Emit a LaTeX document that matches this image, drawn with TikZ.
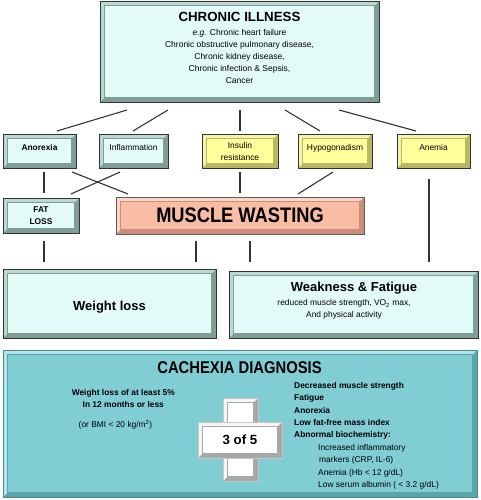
\documentclass[tikz,border=0pt]{standalone}
\usepackage{fontspec}
\setmainfont{Liberation Sans}
\newfontfamily\narrowfont{Liberation Sans}[FakeStretch=0.87]
\usetikzlibrary{calc}
\definecolor{cyanfill}{HTML}{E3FBF8}
\definecolor{cyanlight}{HTML}{BCD8CF}
\definecolor{cyandark}{HTML}{7F9F96}
\definecolor{yelfill}{HTML}{FFFF9C}
\definecolor{yellight}{HTML}{F4F4B0}
\definecolor{yeldark}{HTML}{B8B860}
\definecolor{salfill}{HTML}{F9BCA4}
\definecolor{sallight}{HTML}{FBD6C8}
\definecolor{saldark}{HTML}{C98E78}
\definecolor{cachfill}{HTML}{80CDD3}
\definecolor{cachlight}{HTML}{B2E6E9}
\definecolor{cachdark}{HTML}{5AA4AA}
\definecolor{cachline}{HTML}{4A8A90}
\definecolor{crosslight}{HTML}{F6F6F6}
\definecolor{crossdark}{HTML}{A8A8A8}
\definecolor{crossline}{HTML}{C8C8C8}
\definecolor{boxline}{HTML}{333333}
\tikzset{
  bev/.style n args={4}{draw=#4, line width=0.7pt, fill=#3, inner sep=2pt, outer sep=0pt,
    path picture={
      \coordinate (pNW) at (path picture bounding box.north west);
      \coordinate (pSE) at (path picture bounding box.south east);
      \coordinate (pNE) at (pSE|-pNW);
      \coordinate (pSW) at (pNW|-pSE);
      \fill[#2] (pNW) -- (pNE) -- ($(pNE)+(-4.5pt,-4.5pt)$) -- ($(pNW)+(4.5pt,-4.5pt)$)
        -- ($(pSW)+(4.5pt,4.5pt)$) -- (pSW) -- cycle;
      \filldraw[fill=#1, draw=#3, line width=0.4pt] ($(pNW)+(4.5pt,-4.5pt)$) rectangle ($(pSE)+(-4.5pt,4.5pt)$);
    }},
  cyanbox/.style={bev={cyanfill}{cyanlight}{cyandark}{boxline}},
  yelbox/.style={bev={yelfill}{yellight}{yeldark}{boxline}},
  salbox/.style={bev={salfill}{sallight}{saldark}{boxline!80}},
  cachbox/.style={bev={cachfill}{cachlight}{cachdark}{cachline}},
  crossbox/.style={bev={white}{crosslight}{crossdark}{crossline}},
  small/.style={font=\fontsize{8.4}{12}\selectfont},
  smallb/.style={font=\fontsize{8.4}{12}\selectfont\bfseries},
  up4/.style={text height=6pt, text depth=8pt},
  conn/.style={draw=black!80, line width=1.1pt},
}
\begin{document}
\begin{tikzpicture}[x=1pt,y=-1pt]
\useasboundingbox[fill=white] (0,0) rectangle (480,500);
% top box
\node[cyanbox, minimum width=279pt, minimum height=101pt] (top) at (239.5,51.5) {};
\node[font=\fontsize{13.3}{15}\selectfont\bfseries] (toptitle) at (239.5,16.5) {CHRONIC ILLNESS};
\node[font=\fontsize{8.5}{12}\selectfont, align=center, inner sep=0pt] (toplist) at (239.5,56)
  {\textit{e.g.} Chronic heart failure\\ Chronic obstructive pulmonary disease,\\ Chronic kidney disease,\\ Chronic infection \& Sepsis,\\ Cancer};
% row 2
\node[cyanbox, minimum width=73pt, minimum height=34pt, smallb, up4] (anor) at (39.5,151) {Anorexia};
\node[cyanbox, minimum width=69pt, minimum height=34pt, small, up4] (infl) at (133.5,151) {Inflammation};
\node[yelbox, minimum width=76pt, minimum height=34pt, small, align=center] (insu) at (240,151) {Insulin\\resistance};
\node[yelbox, minimum width=74pt, minimum height=34pt, small, up4] (hypo) at (335,151) {Hypogonadism};
\node[yelbox, minimum width=73pt, minimum height=34pt, small, up4] (anem) at (433.5,151) {Anemia};
% row 3
\node[cyanbox, minimum width=76pt, minimum height=35pt, smallb, align=center] (fat) at (41,215.5) {FAT\\LOSS};
\node[salbox, minimum width=248pt, minimum height=37pt, font=\fontsize{21}{24}\narrowfont\bfseries] (mw) at (240,215.5) {MUSCLE WASTING};
% row 4
\node[cyanbox, minimum width=213pt, minimum height=69pt, font=\fontsize{13}{15}\selectfont\bfseries, text height=17pt, text depth=2.7pt] (wl) at (109.5,303.5) {Weight loss};
\node[cyanbox, minimum width=249pt, minimum height=67pt] (wf) at (353.5,304.5) {};
\node[font=\fontsize{13}{15}\selectfont\bfseries] (wftitle) at (354,287.7) {Weakness \& Fatigue};
\node[small, align=center, inner sep=0pt] (wftext) at (344,309.5) {reduced muscle strength, VO\textsubscript{2} max,\\And physical activity};
% connectors
\draw[conn] ([shift={(27,8)}]top.south west) -- ([shift={(54,-3)}]anor.north west);
\draw[conn] ([shift={(68,8)}]top.south west) -- ([shift={(34,-3)}]infl.north west);
\draw[conn] ([shift={(0.5,8)}]top.south) -- ([shift={(0,-3)}]insu.north);
\draw[conn] ([shift={(45.5,8)}]top.south) -- ([shift={(22,-3)}]hypo.north west);
\draw[conn] ([shift={(99.5,8)}]top.south) -- ([shift={(19,-3)}]anem.north west);
\draw[conn] ([shift={(41,4)}]anor.south west) -- ([shift={(41,-5)}]fat.north west);
\draw[conn] ([shift={(69,4)}]anor.south west) -- ([shift={(12,-3)}]mw.north west);
\draw[conn] ([shift={(21,4)}]infl.south west) -- ([shift={(68,-4)}]fat.north west);
\draw[conn] ([shift={(0,4)}]insu.south) -- ([shift={(0,-4)}]mw.north);
\draw[conn] ([shift={(35,4)}]hypo.south west) -- ([shift={(182,-3)}]mw.north west);
\draw[conn] ([shift={(32,11)}]anem.south west) -- ([shift={(200,-9)}]wf.north west);
\draw[conn] ([shift={(41,8)}]fat.south west) -- ([shift={(41,-7)}]wl.north west);
\draw[conn] ([shift={(80,7)}]mw.south west) -- ([shift={(193,-7)}]wl.north west);
\draw[conn] ([shift={(134,7)}]mw.south west) -- ([shift={(21,-9)}]wf.north west);
% cachexia
\node[cachbox, minimum width=474pt, minimum height=147pt] (cach) at (240,423.5) {};
\node[font=\fontsize{17}{20}\narrowfont\bfseries] (cachtitle) at (239.5,368) {CACHEXIA DIAGNOSIS};
\node[smallb, align=center, inner sep=0pt] (wlcrit) at (123.3,398) {Weight loss of at least 5\%\\In 12 months or less};
\node[small, inner sep=0pt] (bmi) at (115.5,425) {(or BMI < 20 kg/m\textsuperscript{2})};
\node[crossbox, minimum width=35pt, minimum height=83pt] (crossv) at (240.5,439.5) {};
\node[crossbox, minimum width=84pt, minimum height=36pt, font=\fontsize{13.3}{15}\selectfont\bfseries] (crossh) at (240,440) {3 of 5};
\node[font=\fontsize{8.4}{12.4}\selectfont, align=left, anchor=north west, inner sep=0pt] (crit) at (294,382)
  {\textbf{Decreased muscle strength}\\
   \textbf{Fatigue}\\
   \textbf{Anorexia}\\
   \textbf{Low fat-free mass index}\\
   \textbf{Abnormal biochemistry:}\\
   \hspace*{24pt}Increased inflammatory\\
   \hspace*{25pt}markers (CRP, IL-6)\\
   \hspace*{24pt}Anemia (Hb < 12 g/dL)\\
   \hspace*{24pt}Low serum albumin ( < 3.2 g/dL)};
\end{tikzpicture}
\end{document}
